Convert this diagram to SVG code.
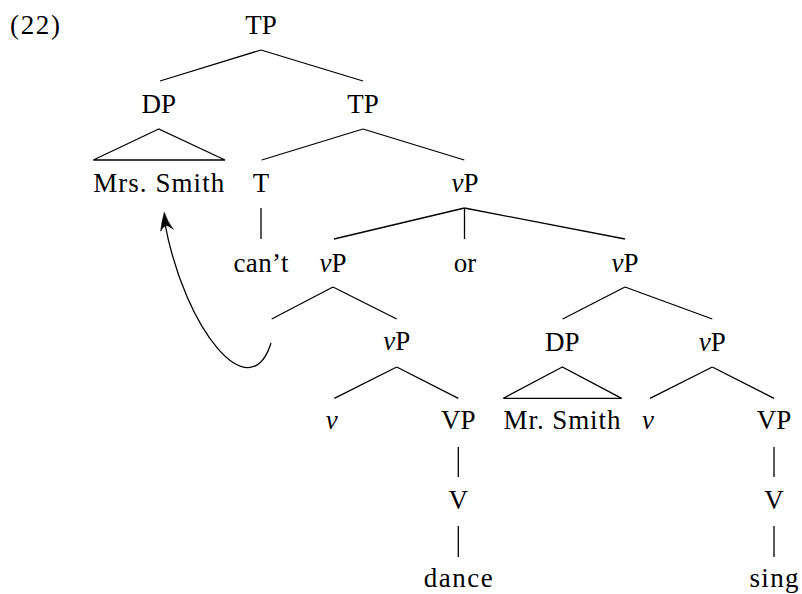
<svg xmlns="http://www.w3.org/2000/svg" width="802" height="594" viewBox="0 0 802 594">
<style>
text{font-family:"Liberation Serif","Times New Roman",serif;font-size:27px;fill:#000;text-anchor:middle}
.i{font-style:italic}
line,polygon,path{stroke:#000;stroke-width:1.3;fill:none;stroke-linecap:butt}
.ah{fill:#000;stroke:#000;stroke-width:0.6;stroke-linejoin:round}
</style>
<rect width="802" height="594" fill="#fff"/>
<text x="10" y="34" style="text-anchor:start" textLength="50" lengthAdjust="spacing">(22)</text>
<g id="n-tp"><text x="261" y="34">TP</text></g>
<g id="n-dp1"><text x="158.7" y="113">DP</text></g>
<g id="n-tp2"><text x="363" y="113">TP</text></g>
<g id="n-mrs"><text x="158.7" y="192" textLength="131" lengthAdjust="spacing">Mrs. Smith</text></g>
<g id="n-t"><text x="261" y="192">T</text></g>
<g id="n-vp-conj"><text x="465" y="192"><tspan class="i">ν</tspan>P</text></g>
<g id="n-cant"><text x="261" y="272" textLength="55" lengthAdjust="spacing">can’t</text></g>
<g id="n-vp-l"><text x="333" y="272"><tspan class="i">ν</tspan>P</text></g>
<g id="n-or"><text x="465" y="272">or</text></g>
<g id="n-vp-r"><text x="625" y="272"><tspan class="i">ν</tspan>P</text></g>
<g id="n-vp-l2"><text x="396.7" y="350"><tspan class="i">ν</tspan>P</text></g>
<g id="n-dp2"><text x="562.3" y="351">DP</text></g>
<g id="n-vp-r2"><text x="712.3" y="351"><tspan class="i">ν</tspan>P</text></g>
<g id="n-v-l"><text class="i" x="331.7" y="429">ν</text></g>
<g id="n-VP-l"><text x="458.3" y="429">VP</text></g>
<g id="n-mr"><text x="562" y="429" textLength="117" lengthAdjust="spacing">Mr. Smith</text></g>
<g id="n-v-r"><text class="i" x="648" y="429">ν</text></g>
<g id="n-VP-r"><text x="774" y="429">VP</text></g>
<g id="n-V-l"><text x="458.3" y="509">V</text></g>
<g id="n-V-r"><text x="774" y="509">V</text></g>
<g id="n-dance"><text x="458.3" y="587" textLength="69" lengthAdjust="spacing">dance</text></g>
<g id="n-sing"><text x="774" y="587" textLength="49" lengthAdjust="spacing">sing</text></g>
<g id="connectors">
<line x1="261" y1="50" x2="160" y2="81"/>
<line x1="261" y1="50" x2="363" y2="81"/>
<polygon points="158.7,129 93.3,160 225,160"/>
<line x1="363" y1="129" x2="261.7" y2="160"/>
<line x1="363" y1="129" x2="464.3" y2="160"/>
<line x1="261" y1="208" x2="261" y2="239"/>
<line x1="464.5" y1="208" x2="334" y2="239"/>
<line x1="464.5" y1="208" x2="464.5" y2="239"/>
<line x1="464.5" y1="208" x2="625" y2="239"/>
<line x1="333" y1="287" x2="271.7" y2="319"/>
<line x1="333" y1="287" x2="396.7" y2="319"/>
<line x1="625" y1="287" x2="562.7" y2="319"/>
<line x1="625" y1="287" x2="712.3" y2="319"/>
<line x1="396.7" y1="367" x2="334.3" y2="398.3"/>
<line x1="396.7" y1="367" x2="458.3" y2="398.3"/>
<polygon points="562.3,367 503.3,398.3 621.7,398.3"/>
<line x1="712.3" y1="367" x2="650" y2="398.3"/>
<line x1="712.3" y1="367" x2="774" y2="398.3"/>
<line x1="458.3" y1="447" x2="458.3" y2="477"/>
<line x1="458.3" y1="526" x2="458.3" y2="557"/>
<line x1="774" y1="447" x2="774" y2="477"/>
<line x1="774" y1="526" x2="774" y2="557"/>
<path d="M271,343 C250,410 185,330 165,224"/>
<path class="ah" d="M164.3,212.3 Q167.5,222 173.3,229.3 Q168,225.3 165.7,225.5 Q162.8,227 160.6,231.2 Q161.8,221.5 164.3,212.3 Z"/>
</g>
</svg>
